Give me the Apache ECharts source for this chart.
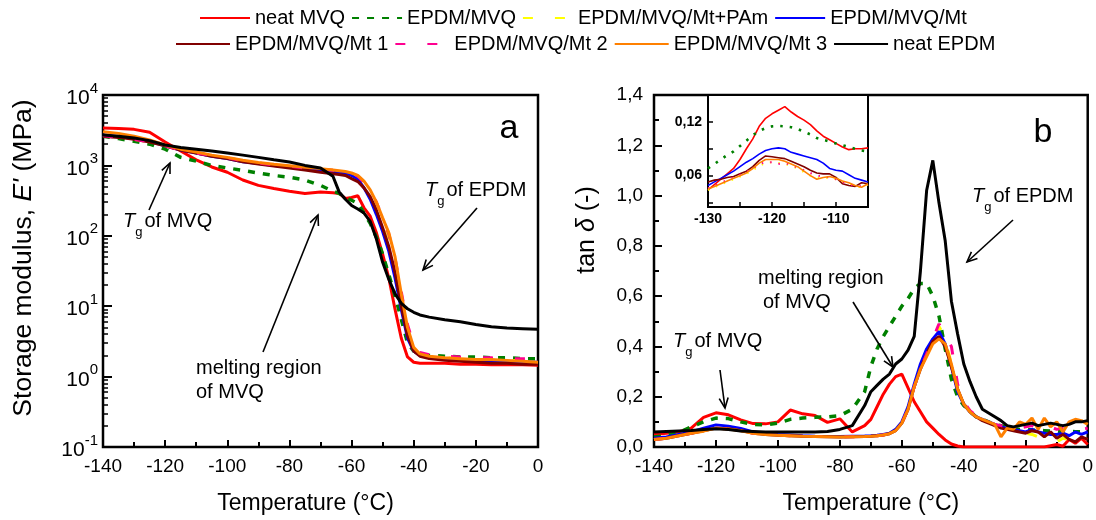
<!DOCTYPE html>
<html><head><meta charset="utf-8">
<script src="https://cdn.jsdelivr.net/npm/echarts@6/dist/echarts.min.js"></script>
<style>html,body{margin:0;padding:0;background:#fff}#c{width:1096px;height:520px}</style>
</head><body><div id="c"></div>
<script>
// ---------------- DATA ----------------
const seriesNames = ['neat MVQ','EPDM/MVQ','EPDM/MVQ/Mt+PAm','EPDM/MVQ/Mt','EPDM/MVQ/Mt 1','EPDM/MVQ/Mt 2','EPDM/MVQ/Mt 3','neat EPDM'];

// Panel a: storage modulus E' (MPa) vs temperature (°C)
const tempA = [-140,-135,-130,-125,-120,-115,-110,-105,-100,-95,-90,-85,-80,-75,-70,-66,-64,-62,-60,-58,-56,-54,-52,-50,-48,-46,-44,-42,-40,-38,-35,-30,-25,-20,-15,-10,-5,0];
const eNeatMVQ   = [3400,3350,3250,2950,2150,1600,1200,950,800,620,520,470,430,400,420,410,400,340,350,370,250,190,110,55,25,9,3.5,1.9,1.6,1.55,1.55,1.55,1.5,1.5,1.47,1.47,1.47,1.45];
const eEpdmMvq   = [2600,2400,2200,2000,1700,1300,1150,1000,920,850,780,720,680,620,520,430,400,350,320,290,210,150,95,55,28,14,6.5,3.0,2.3,2.1,2.0,1.95,1.9,1.9,1.85,1.85,1.8,1.8];
const eMtPAm     = [2650,2500,2350,2150,1900,1650,1500,1380,1280,1160,1080,1020,970,920,880,850,830,810,760,690,560,420,280,165,95,42,13,4.5,2.5,2.0,1.9,1.85,1.8,1.75,1.75,1.7,1.7,1.65];
const eMt        = [2700,2550,2400,2200,1900,1650,1500,1350,1250,1130,1060,1000,950,900,860,820,800,780,720,640,480,330,200,115,60,25,9,3.5,2.3,2.0,1.85,1.8,1.75,1.7,1.7,1.65,1.6,1.6];
const eMt1       = [2600,2500,2350,2150,1900,1650,1500,1350,1250,1130,1050,980,920,860,800,760,740,720,650,590,480,360,230,130,70,30,10,3.8,2.3,1.95,1.8,1.7,1.65,1.6,1.55,1.55,1.5,1.5];
const eMt2       = [2650,2500,2350,2150,1900,1650,1500,1380,1280,1160,1080,1020,970,920,880,850,830,810,770,700,580,440,300,180,105,48,16,5.5,2.8,2.2,2.05,1.95,1.9,1.85,1.85,1.8,1.8,1.8];
const eMt3       = [3000,2850,2600,2300,1950,1700,1550,1400,1300,1180,1100,1040,990,940,900,860,840,820,780,720,600,450,300,180,110,50,15,5,2.6,2.1,1.95,1.85,1.8,1.75,1.75,1.7,1.65,1.6];
const eNeatEPDM  = [2700,2600,2450,2250,1950,1800,1700,1600,1500,1400,1300,1200,1120,1000,920,700,420,330,270,240,210,160,90,42,24,15,11,9.2,8.2,7.5,7,6.4,6,5.5,5.1,4.9,4.8,4.7];

// Panel b: tan delta vs temperature (°C)
const tempB = [-140,-136,-132,-128,-124,-120,-116,-112,-108,-104,-100,-96,-92,-88,-84,-80,-76,-72,-70,-68,-66,-64,-62,-60,-58,-56,-54,-52,-50,-48,-46,-44,-42,-40,-38,-36,-34,-32,-30,-28,-26,-24,-22,-20,-18,-16,-14,-12,-10,-8,-6,-4,-2,0];
const tNeatMVQ  = [0.05,0.055,0.06,0.075,0.118,0.136,0.128,0.108,0.093,0.092,0.1,0.147,0.132,0.125,0.098,0.112,0.06,0.085,0.11,0.16,0.21,0.25,0.28,0.29,0.235,0.18,0.14,0.1,0.075,0.05,0.028,0.012,0.004,0,0,0,0,0,0,0,0,0,0,0,0,0,0,0.005,0.01,0.003,0.03,0.015,0.035,0.01];
const tEpdmMvq  = [0.04,0.045,0.058,0.08,0.1,0.115,0.113,0.1,0.09,0.088,0.095,0.11,0.115,0.118,0.12,0.125,0.15,0.22,0.32,0.39,0.44,0.48,0.52,0.56,0.59,0.63,0.65,0.65,0.6,0.52,0.39,0.27,0.2,0.165,0.14,0.12,0.11,0.1,0.09,0.085,0.08,0.075,0.07,0.07,0.068,0.066,0.065,0.064,0.063,0.062,0.062,0.061,0.06,0.06];
const tMtPAm    = [0.03,0.035,0.045,0.055,0.065,0.075,0.072,0.065,0.055,0.05,0.047,0.045,0.043,0.042,0.041,0.04,0.041,0.042,0.043,0.045,0.048,0.053,0.065,0.095,0.15,0.24,0.32,0.38,0.43,0.48,0.43,0.33,0.23,0.17,0.14,0.12,0.105,0.095,0.09,0.08,0.07,0.065,0.06,0.055,0.05,0.04,0.03,0.025,0.02,0.035,0.03,0.02,0.03,0.035];
const tMt       = [0.035,0.04,0.05,0.06,0.075,0.088,0.083,0.074,0.06,0.055,0.05,0.048,0.045,0.043,0.042,0.042,0.043,0.044,0.045,0.047,0.05,0.055,0.07,0.1,0.16,0.25,0.33,0.39,0.43,0.46,0.41,0.32,0.22,0.17,0.14,0.12,0.11,0.1,0.09,0.08,0.075,0.07,0.065,0.06,0.07,0.06,0.055,0.05,0.05,0.055,0.045,0.06,0.05,0.06];
const tMt1      = [0.03,0.035,0.045,0.055,0.065,0.075,0.073,0.066,0.056,0.05,0.047,0.045,0.043,0.042,0.041,0.04,0.041,0.042,0.043,0.045,0.048,0.053,0.065,0.095,0.15,0.24,0.31,0.37,0.42,0.44,0.40,0.32,0.23,0.17,0.14,0.12,0.105,0.095,0.085,0.075,0.07,0.065,0.06,0.055,0.065,0.06,0.04,0.06,0.035,0.05,0.03,0.02,0.04,0.03];
const tMt2      = [0.03,0.035,0.045,0.055,0.065,0.075,0.072,0.065,0.055,0.05,0.047,0.045,0.043,0.042,0.041,0.04,0.041,0.042,0.043,0.045,0.048,0.053,0.065,0.095,0.15,0.24,0.31,0.37,0.43,0.49,0.44,0.40,0.25,0.18,0.145,0.125,0.11,0.1,0.09,0.085,0.08,0.085,0.075,0.08,0.085,0.07,0.075,0.08,0.07,0.075,0.07,0.065,0.07,0.075];
const tMt3      = [0.03,0.035,0.045,0.055,0.063,0.075,0.072,0.065,0.055,0.05,0.047,0.045,0.043,0.042,0.041,0.04,0.041,0.042,0.043,0.045,0.048,0.053,0.065,0.095,0.15,0.24,0.31,0.36,0.41,0.43,0.41,0.33,0.23,0.17,0.14,0.12,0.11,0.1,0.09,0.04,0.075,0.07,0.1,0.09,0.115,0.07,0.115,0.08,0.1,0.06,0.1,0.11,0.105,0.09];
const tNeatEPDM = [0.06,0.062,0.064,0.066,0.07,0.073,0.07,0.064,0.062,0.06,0.06,0.06,0.06,0.06,0.062,0.07,0.085,0.165,0.22,0.245,0.27,0.29,0.33,0.35,0.385,0.44,0.7,1.02,1.14,0.97,0.82,0.58,0.45,0.33,0.26,0.2,0.15,0.135,0.12,0.105,0.085,0.08,0.085,0.09,0.095,0.085,0.09,0.095,0.09,0.085,0.09,0.1,0.1,0.105];

// Inset: tan delta around Tg of MVQ
const tempInset = [-130,-129,-128,-127,-126,-125,-124,-123,-122,-121,-120,-119,-118,-117,-116,-115,-114,-113,-112,-111,-110,-109,-108,-107,-106,-105];
const iNeatMVQ = [0.044,0.05,0.056,0.062,0.068,0.078,0.09,0.101,0.115,0.124,0.129,0.133,0.137,0.131,0.126,0.122,0.117,0.11,0.104,0.1,0.096,0.092,0.089,0.09,0.09,0.091];
const iEpdmMvq = [0.068,0.073,0.078,0.083,0.087,0.093,0.099,0.105,0.11,0.113,0.115,0.1155,0.115,0.114,0.112,0.109,0.106,0.102,0.1,0.098,0.096,0.094,0.092,0.09,0.088,0.087];
const iMtPAm   = [0.044,0.047,0.05,0.053,0.056,0.059,0.062,0.066,0.071,0.074,0.075,0.074,0.073,0.071,0.068,0.064,0.06,0.058,0.057,0.058,0.056,0.053,0.05,0.048,0.047,0.05];
const iMt      = [0.049,0.053,0.057,0.061,0.065,0.07,0.075,0.079,0.084,0.088,0.09,0.091,0.09,0.086,0.084,0.082,0.08,0.078,0.074,0.068,0.066,0.065,0.061,0.057,0.055,0.053];
const iMt1     = [0.053,0.055,0.056,0.058,0.059,0.062,0.065,0.07,0.077,0.082,0.081,0.08,0.079,0.076,0.073,0.07,0.066,0.063,0.062,0.062,0.058,0.051,0.049,0.048,0.052,0.051];
const iMt2     = [0.046,0.049,0.052,0.055,0.058,0.061,0.064,0.068,0.073,0.075,0.075,0.073,0.074,0.072,0.069,0.066,0.063,0.06,0.059,0.058,0.056,0.053,0.05,0.049,0.048,0.05];
const iMt3     = [0.045,0.048,0.051,0.054,0.057,0.06,0.063,0.068,0.074,0.078,0.078,0.078,0.076,0.073,0.07,0.065,0.06,0.056,0.058,0.059,0.057,0.054,0.052,0.049,0.047,0.051];

// Tick label sets
const insetXLabels = [-130,-120,-110];
const insetYLabels = [0.06,0.12];

// ---------------- STYLE ----------------
const FONT = "'Liberation Sans', Arial, Helvetica, sans-serif";
const colors = ['#ff0000','#008000','#ffff00','#0000ff','#800000','#ff0090','#ff8000','#000000'];
const mainStyles = [
  {width:3, type:'solid'},
  {width:3.5, type:[7,8]},
  {width:3, type:[10,22]},
  {width:3, type:'solid'},
  {width:3, type:'solid'},
  {width:3, type:[10,22]},
  {width:3, type:'solid'},
  {width:3, type:'solid'}
];
const insetStyles = [
  {width:1.6, type:'solid'},
  {width:2.6, type:[2.5,7]},
  {width:2, type:[1.5,7]},
  {width:1.6, type:'solid'},
  {width:1.6, type:'solid'},
  {width:2, type:[1.5,7]},
  {width:1.6, type:'solid'},
  null
];

const aData = [eNeatMVQ,eEpdmMvq,eMtPAm,eMt,eMt1,eMt2,eMt3,eNeatEPDM];
const bData = [tNeatMVQ,tEpdmMvq,tMtPAm,tMt,tMt1,tMt2,tMt3,tNeatEPDM];
const iData = [iNeatMVQ,iEpdmMvq,iMtPAm,iMt,iMt1,iMt2,iMt3,null];

function mk(idx, xs, ys, xi, yi, st) {
  return {
    name: seriesNames[idx], type:'line', xAxisIndex:xi, yAxisIndex:yi,
    data: xs.map((x,i)=>[x, ys[i]]), symbol:'none', showSymbol:false,
    lineStyle: Object.assign({color: colors[idx]}, st),
    itemStyle: {color: colors[idx]},
    emphasis: {disabled:true}, silent:true, animation:false
  };
}
const series = [];
for (let k=0;k<8;k++) series.push(mk(k, tempA, aData[k], 0, 0, mainStyles[k]));
for (let k=0;k<8;k++) series.push(mk(k, tempB, bData[k], 1, 1, mainStyles[k]));
for (let k=0;k<7;k++) series.push(mk(k, tempInset, iData[k], 2, 2, insetStyles[k]));

const tickStyle = {color:'#000', width:2};
function tempAxis(gi, pad) {
  return {
    type:'value', gridIndex:gi, min:-140, max:0, interval:20,
    axisLine:{show:false, onZero:false},
    axisTick:{show:true, inside:true, length:7, lineStyle:tickStyle},
    minorTick:{show:true, splitNumber:2, length:5, lineStyle:tickStyle},
    splitLine:{show:false}, minorSplitLine:{show:false},
    axisLabel:{color:'#000', fontSize:19, fontFamily:FONT, margin:10},
    name:'Temperature (°C)', nameLocation:'middle', nameGap:45,
    nameTextStyle:{color:'#000', fontSize:23, fontFamily:FONT, padding:pad}
  };
}
const legendCommon = {itemHeight:14, itemGap:6, selectedMode:false,
  textStyle:{fontSize:20, color:'#000', fontFamily:FONT},
  itemStyle:{color:'transparent', borderColor:'transparent', borderWidth:0, opacity:0}};

const option = {
  animation:false,
  backgroundColor:'#fff',
  textStyle:{fontFamily:FONT},
  legend:[
    Object.assign({data:seriesNames.slice(0,4), left:194, top:3, itemWidth:50}, legendCommon),
    Object.assign({data:seriesNames.slice(4), left:170, top:29, itemWidth:54}, legendCommon)
  ],
  grid:[
    {left:103, top:95, width:435, height:352, show:true, borderColor:'#000', borderWidth:2.5, backgroundColor:'transparent'},
    {left:654, top:95, width:436, height:352, show:true, borderColor:'#000', borderWidth:2.5, backgroundColor:'transparent'},
    {left:708, top:95, width:160, height:112, show:true, borderColor:'#000', borderWidth:2, backgroundColor:'#fff', z:3}
  ],
  xAxis:[
    tempAxis(0, [0,30,0,0]),
    tempAxis(1, [0,0,0,0]),
    {type:'value', gridIndex:2, min:-130, max:-105,
     axisLine:{show:false, onZero:false},
     axisTick:{show:true, inside:true, length:5, lineStyle:{color:'#000', width:1.5}, customValues:[-130,-125,-120,-115,-110,-105]},
     axisLabel:{color:'#000', fontSize:14, fontWeight:'bold', fontFamily:FONT, margin:5, customValues:insetXLabels},
     splitLine:{show:false}, z:4}
  ],
  yAxis:[
    {type:'log', gridIndex:0, logBase:10, min:0.1, max:10000, splitNumber:5,
     axisLine:{show:false, onZero:false},
     axisTick:{show:true, inside:true, length:9, lineStyle:tickStyle},
     minorTick:{show:true, splitNumber:9, length:5, lineStyle:{color:'#000', width:1.5}},
     splitLine:{show:false}, minorSplitLine:{show:false},
     axisLabel:{color:'#000', fontFamily:FONT, margin:5,
       formatter:function(v){ const e=Math.round(Math.log10(v)); return '{b|10}{s|'+e+'}'; },
       rich:{b:{fontSize:21, fontFamily:FONT, color:'#000', lineHeight:28, verticalAlign:'bottom'},
             s:{fontSize:15, fontFamily:FONT, color:'#000', lineHeight:15, verticalAlign:'top'}}},
     name:"Storage modulus, {i|E'} (MPa)", nameLocation:'middle', nameGap:66, nameRotate:90,
     nameTextStyle:{color:'#000', fontSize:26.5, fontFamily:FONT, padding:[0,0,0,26],
       rich:{i:{fontStyle:'italic', fontSize:26.5, fontFamily:FONT, color:'#000'}}}},
    {type:'value', gridIndex:1, min:0, max:1.4, interval:0.2,
     axisLine:{show:false, onZero:false},
     axisTick:{show:true, inside:true, length:8, lineStyle:tickStyle},
     minorTick:{show:true, splitNumber:2, length:5, lineStyle:tickStyle},
     splitLine:{show:false}, minorSplitLine:{show:false},
     axisLabel:{color:'#000', fontSize:19, fontFamily:FONT, margin:11,
       formatter:function(v){ return v.toFixed(1).replace('.',','); }},
     name:'tan {i|δ} (-)', nameLocation:'middle', nameGap:54, nameRotate:90,
     nameTextStyle:{color:'#000', fontSize:25, fontFamily:FONT, padding:[0,0,0,82],
       rich:{i:{fontStyle:'italic', fontSize:25, fontFamily:FONT, color:'#000'}}}},
    {type:'value', gridIndex:2, min:0.025, max:0.15,
     axisLine:{show:false, onZero:false},
     axisTick:{show:true, inside:true, length:5, lineStyle:{color:'#000', width:1.5}, customValues:[0.03,0.06,0.09,0.12]},
     axisLabel:{color:'#000', fontSize:14, fontWeight:'bold', fontFamily:FONT, margin:6, customValues:insetYLabels,
       formatter:function(v){ return v.toFixed(2).replace('.',','); }},
     splitLine:{show:false}, z:4}
  ],
  series: series
};

// ---------------- ANNOTATIONS ----------------
const tgRich = {
  i:{fontStyle:'italic', fontSize:20, fontFamily:FONT, fill:'#000', lineHeight:20, verticalAlign:'top'},
  g:{fontSize:13, fontFamily:FONT, fill:'#000', lineHeight:28, verticalAlign:'bottom'},
  n:{fontSize:20, fontFamily:FONT, fill:'#000', lineHeight:20, verticalAlign:'top', padding:[0,0,0,2]}
};
function tgText(x, y, what) {
  return {type:'text', x:x, y:y, silent:true, z:100,
    style:{text:'{i|T}{g|g}{n|of '+what+'}', rich:tgRich, align:'left', verticalAlign:'top'}};
}
function plainText(x, y, txt, size) {
  return {type:'text', x:x, y:y, silent:true, z:100,
    style:{text:txt, font:size+'px '+FONT, fill:'#000', align:'left', verticalAlign:'top', lineHeight:24}};
}
function arrow(x1, y1, x2, y2) {
  const a = Math.atan2(y2-y1, x2-x1), L = 11, w = 0.42;
  const p1 = [x2 - L*Math.cos(a-w), y2 - L*Math.sin(a-w)];
  const p2 = [x2 - L*Math.cos(a+w), y2 - L*Math.sin(a+w)];
  return [
    {type:'line', silent:true, z:100, shape:{x1:x1, y1:y1, x2:x2, y2:y2}, style:{stroke:'#000', lineWidth:1.6}},
    {type:'polyline', silent:true, z:100, shape:{points:[p1,[x2,y2],p2]}, style:{stroke:'#000', lineWidth:1.6, fill:null}}
  ];
}
const graphics = [].concat(
  [tgText(123, 211, 'MVQ'), plainText(196, 356, 'melting region\nof MVQ', 20), tgText(425, 180, 'EPDM'),
   {type:'text', x:509, y:129, silent:true, z:100, style:{text:'a', font:'34px '+FONT, fill:'#000', align:'center', verticalAlign:'middle'}},
   {type:'text', x:1043, y:133, silent:true, z:100, style:{text:'b', font:'34px '+FONT, fill:'#000', align:'center', verticalAlign:'middle'}},
   tgText(972, 186, 'EPDM'), plainText(758, 266, 'melting region', 20), plainText(763, 290, 'of MVQ', 20),
   tgText(673, 331, 'MVQ')],
  arrow(149, 210, 170, 163), arrow(263, 352, 318, 215), arrow(477, 208, 423, 270),
  arrow(1013, 220, 967, 262), arrow(853, 302, 893, 367), arrow(720, 370, 725, 408)
);
option.graphic = {elements: graphics};

const chart = echarts.init(document.getElementById('c'), null, {renderer:'canvas'});
chart.setOption(option);
</script>
</body></html>
